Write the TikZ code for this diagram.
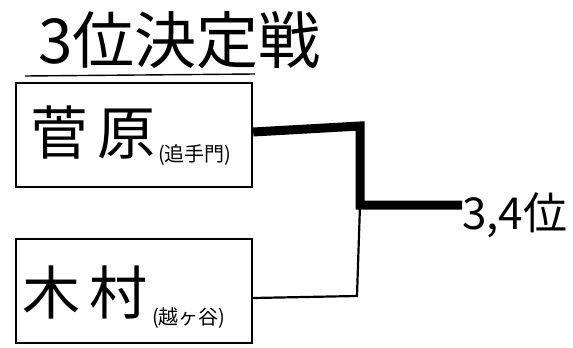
\documentclass[tikz,border=0pt]{standalone}
\usepackage{fontspec}
\newfontfamily\cjk{Noto Sans CJK JP}
\begin{document}
\begin{tikzpicture}[x=1pt,y=-1pt,
  entry/.style={draw,line width=2.2pt,minimum width=236pt,minimum height=104pt,inner sep=0pt},
  thick line/.style={line width=9pt},
  thin line/.style={line width=2.2pt},
  big/.style={font=\cjk\fontsize{58}{60}\selectfont,inner sep=0pt},
  small/.style={font=\cjk\fontsize{20}{22}\selectfont,inner sep=0pt}]
\useasboundingbox (0,0) rectangle (573,348);
\node[font=\cjk\fontsize{62}{64}\selectfont,inner sep=0pt,anchor=west] (title) at (38,40) {3位決定戦};
\draw[line width=1.4pt] (25,76) -- (255,74);
\node[entry,anchor=north west] (b1) at (15,82) {};
\node[entry,anchor=north west] (b2) at (15,238) {};
\node[big,anchor=west] (n1) at (30,133) {菅\,原};
\node[small,anchor=west] (s1) at (158,155) {(追手門)};
\node[big,anchor=west] (n2) at (22,292) {木\,村};
\node[small,anchor=west] (s2) at (152,318) {(越ヶ谷)};
\coordinate (j1) at (360,126);
\coordinate (m) at (360,205);
\coordinate (j2) at (357,296);
\node[font=\cjk\fontsize{44}{46}\selectfont,inner sep=0pt,anchor=west] (res) at (462,215) {3,4位};
\draw[thick line] (b1.east|-0,132) -- (j1) -- (m) -- (res.west|-m);
\draw[thin line] (b2.east|-0,298) -- (j2) -- (m);
\end{tikzpicture}
\end{document}
